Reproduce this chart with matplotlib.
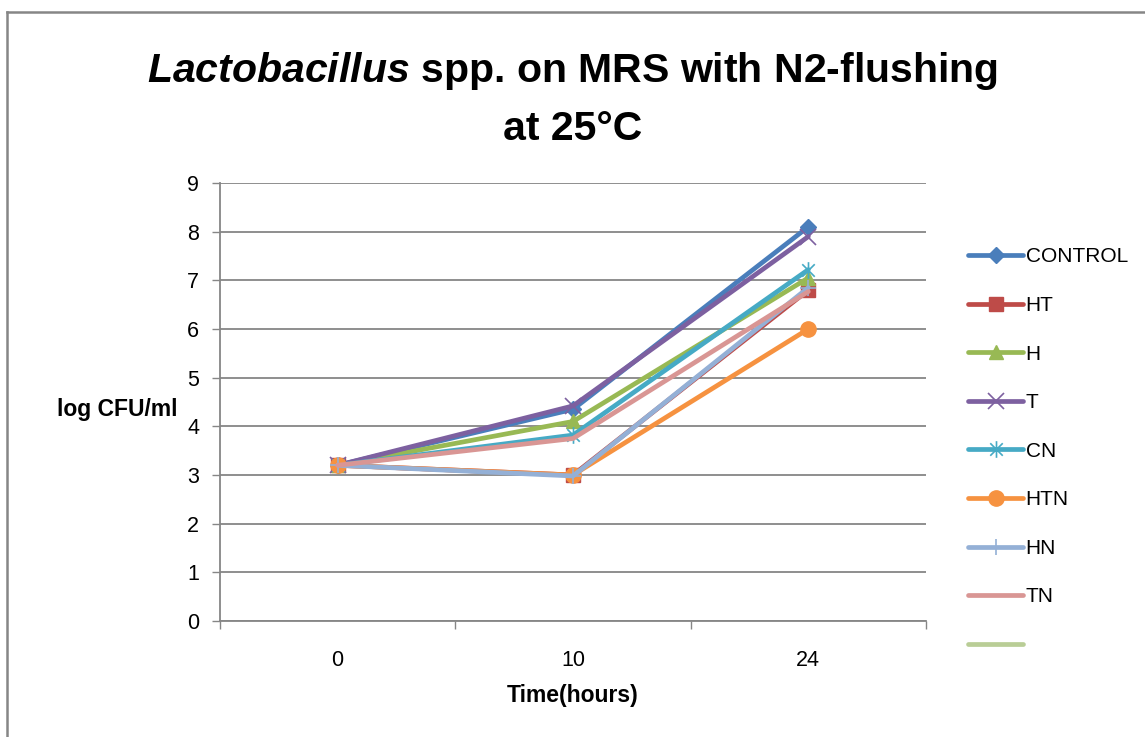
import matplotlib
matplotlib.use("Agg")
import matplotlib.pyplot as plt
from matplotlib.lines import Line2D
from matplotlib.path import Path

plt.rcParams['font.family'] = ['Liberation Sans', 'DejaVu Sans']
plt.rcParams['mathtext.fontset'] = 'custom'
plt.rcParams['mathtext.it'] = 'Liberation Sans:italic:bold'
plt.rcParams['mathtext.rm'] = 'Liberation Sans:bold'

categories = ["0", "10", "24"]
series_names = ["CONTROL", "HT", "H", "T", "CN", "HTN", "HN", "TN"]
control = [3.2, 4.35, 8.1]
ht = [3.2, 3.0, 6.8]
h = [3.2, 4.1, 7.05]
t = [3.2, 4.42, 7.9]
cn = [3.2, 3.82, 7.22]
htn = [3.2, 3.0, 6.0]
hn = [3.2, 2.98, 6.85]
tn = [3.2, 3.75, 6.77]
values = [control, ht, h, t, cn, htn, hn, tn]
y_ticks = list(range(0, 10))

star = Path([(0, -1), (0, 1), (-0.75, -0.75), (0.75, 0.75), (-0.75, 0.75), (0.75, -0.75)],
            [Path.MOVETO, Path.LINETO, Path.MOVETO, Path.LINETO, Path.MOVETO, Path.LINETO])

styles = [
    dict(color="#4A7EBB", marker="D", ms=8, mew=1),
    dict(color="#BE4B48", marker="s", ms=10, mew=1),
    dict(color="#98B954", marker="^", ms=10, mew=1),
    dict(color="#7D60A0", marker="x", ms=11, mew=1.2),
    dict(color="#46AAC5", marker=star, ms=12, mew=1.2),
    dict(color="#F69240", marker="o", ms=11, mew=1),
    dict(color="#94B0D6", marker="+", ms=12, mew=1.2),
    dict(color="#D99694", marker="None", ms=8, mew=1),
]

fig = plt.figure(figsize=(11.45, 7.37), dpi=100)
ax = fig.add_axes([220/1145, 1-621/737, 706/1145, 438/737])

x = list(range(len(categories)))
handles = []
for name, vals, st in zip(series_names, values, styles):
    ln, = ax.plot(x, vals, color=st["color"], lw=3.4, marker=st["marker"],
                  markersize=st["ms"], markeredgewidth=st["mew"],
                  markerfacecolor=st["color"], markeredgecolor=st["color"],
                  label=name, solid_capstyle="round", zorder=3)
    handles.append(ln)
empty, = ax.plot([], [], color="#B9CD96", lw=3.4, solid_capstyle="round")
handles.append(empty)
labels = series_names + [""]

ax.set_xlim(-0.5, 2.5)
ax.set_ylim(0, 9)
ax.set_yticks(y_ticks)
ax.set_xticks(x)
ax.set_xticklabels(categories)
ax.set_xticks([-0.5, 0.5, 1.5, 2.5], minor=True)
ax.tick_params(axis="x", which="major", length=0, pad=21, labelsize=15.5)
ax.tick_params(axis="x", which="minor", length=6, width=1, color="#868686", direction="out")
ax.tick_params(axis="y", length=6, width=1, color="#868686", direction="out", pad=9, labelsize=15.5)

ax.grid(axis="y", color="#868686", lw=1.3, zorder=0)
ax.set_axisbelow(True)
for s in ["top", "right"]:
    ax.spines[s].set_visible(False)
for s in ["left", "bottom"]:
    ax.spines[s].set_color("#868686")
    ax.spines[s].set_linewidth(1.3)

ax.set_ylabel("log CFU/ml", rotation=0, fontweight="bold", fontsize=16.5, ha="center", va="center")
ax.yaxis.set_label_coords(-0.146, 0.482)
ax.set_xlabel("Time(hours)", fontweight="bold", fontsize=16.5, ha="center", va="center")
ax.xaxis.set_label_coords(0.5, -0.169)

fig.text(0.5, 1-71/737, r"$Lactobacillus$" + " spp. on MRS with N2-flushing",
         ha="center", va="center", fontsize=29.5, fontweight="bold")
fig.text(0.5, 1-129/737, "at 25°C", ha="center", va="center", fontsize=29.5, fontweight="bold")

leg = ax.legend(handles, labels, loc="upper left", bbox_to_anchor=(958/1145, 1-237/737),
                bbox_transform=fig.transFigure, frameon=False, fontsize=15,
                handlelength=2.6, handletextpad=0.15, labelspacing=1.42, borderpad=0)

fig.add_artist(Line2D([7/1145, 7/1145], [0, 1-12/737], color="#868686", lw=1.8))
fig.add_artist(Line2D([7/1145, 1], [1-12/737, 1-12/737], color="#868686", lw=1.8))

fig.savefig("out.png", dpi=100)
